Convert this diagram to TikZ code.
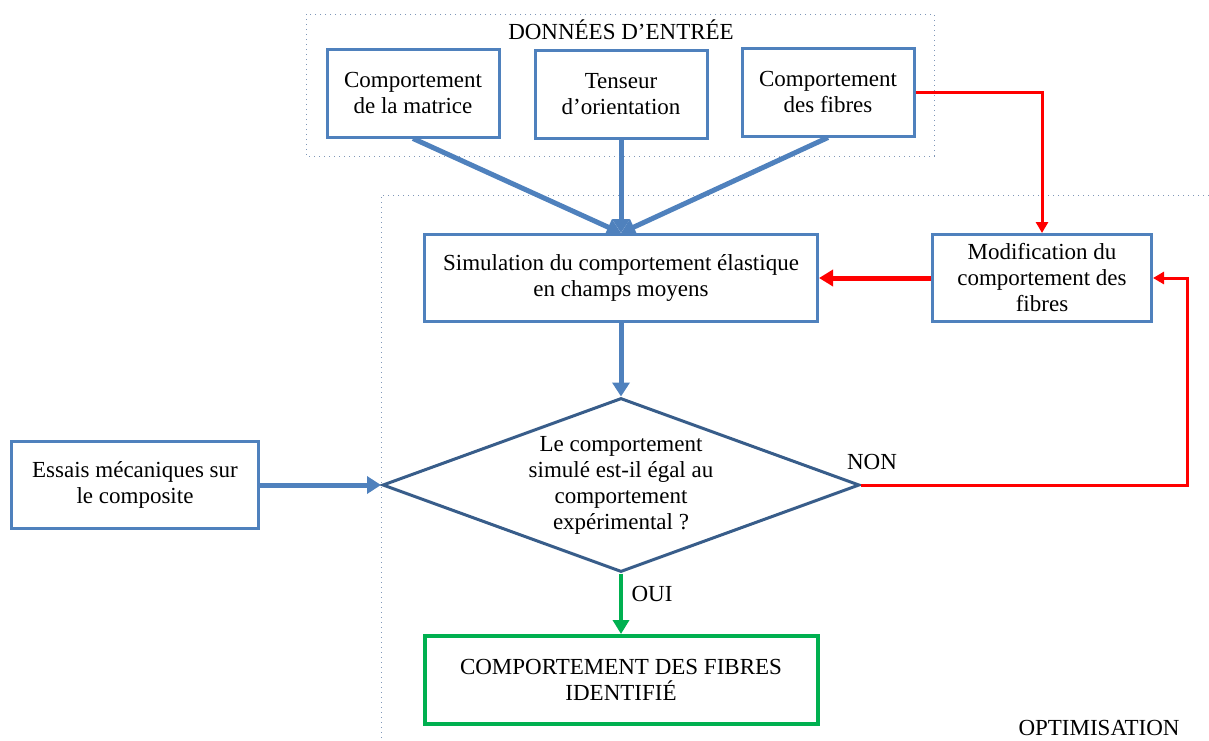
\documentclass[tikz,border=0pt]{standalone}
\usepackage{fontspec}
\setmainfont{Liberation Serif}
\usetikzlibrary{shapes.geometric,arrows.meta}
\definecolor{boxblue}{HTML}{4F81BD}
\definecolor{darkblue}{HTML}{385D8A}
\definecolor{okgreen}{HTML}{00B050}
\definecolor{framegray}{HTML}{7F97B8}
\begin{document}
\begin{tikzpicture}[
  x=0.5pt, y=-0.5pt,
  every node/.style={font=\fontsize{11.5}{13}\selectfont},
  box/.style={draw=boxblue, line width=1.5pt, align=center, minimum width=86pt, minimum height=44pt},
  widebox/.style={box, minimum width=196.5pt, minimum height=43.5pt},
  decision/.style={diamond, draw=darkblue, line width=1.5pt, inner sep=0pt, minimum width=238.5pt, minimum height=87pt},
  result/.style={draw=okgreen, line width=2pt, align=center, minimum width=196.5pt, minimum height=44pt},
  frame/.style={draw=framegray, dotted, line width=0.5pt},
  arrow/.style={-{Triangle[length=7pt,width=8.5pt]}, draw=boxblue, line width=2.5pt},
  redarrow/.style={-{Triangle[length=5.5pt,width=6pt]}, draw=red, line width=1.5pt},
  greenarrow/.style={-{Triangle[length=7pt,width=8pt]}, draw=okgreen, line width=2pt}
]
\useasboundingbox (0,0) rectangle (1209,740);
% frames
\draw[frame] (306,14) rectangle (934,156);
\draw[frame] (1209,195) -| (381,740);
\node (inputs) at (621,30) {DONNÉES D’ENTRÉE};
\node (optim) at (1099,728) {OPTIMISATION};
% input data
\node[box] (matrix) at (413,93) {Comportement\\de la matrice};
\node[box] (tensor) at (621,94) {Tenseur\\d’orientation};
\node[box] (fibres) at (828,92) {Comportement\\des fibres};
% loop
\node[widebox] (sim) at (621,278) {Simulation du comportement élastique\\en champs moyens};
\node[box, minimum width=109.5pt, minimum height=43.5pt] (modif) at (1042,278) {Modification du\\comportement des\\fibres};
\node[decision, label={[align=center]center:Le comportement\\simulé est-il égal au\\comportement\\expérimental ?}] (test) at (621,485) {};
\node[box, minimum width=123.5pt, minimum height=43.5pt] (tests) at (135,485) {Essais mécaniques sur\\le composite};
\node[result] (done) at (621,680) {COMPORTEMENT DES FIBRES\\IDENTIFIÉ};
\coordinate (loop) at (1187,278);
\node (no) at (872,462) {NON};
\node (yes) at (652,594) {OUI};
% connectors
\draw[arrow] (matrix.south) -- (sim.north);
\draw[arrow] (tensor.south) -- (sim.north);
\draw[arrow] (fibres.south) -- (sim.north);
\draw[redarrow] (fibres.east) -| (modif.north);
\draw[redarrow, -{Triangle[length=7pt,width=8pt]}, line width=2.5pt] (modif.west) -- (sim.east);
\draw[arrow] (sim.south) -- (test.north);
\draw[arrow] (tests.east) -- (test.west);
\draw[redarrow] (test.east) -| (loop) -- (modif.east);
\draw[greenarrow] (test.south) -- (done.north);
\end{tikzpicture}
\end{document}
